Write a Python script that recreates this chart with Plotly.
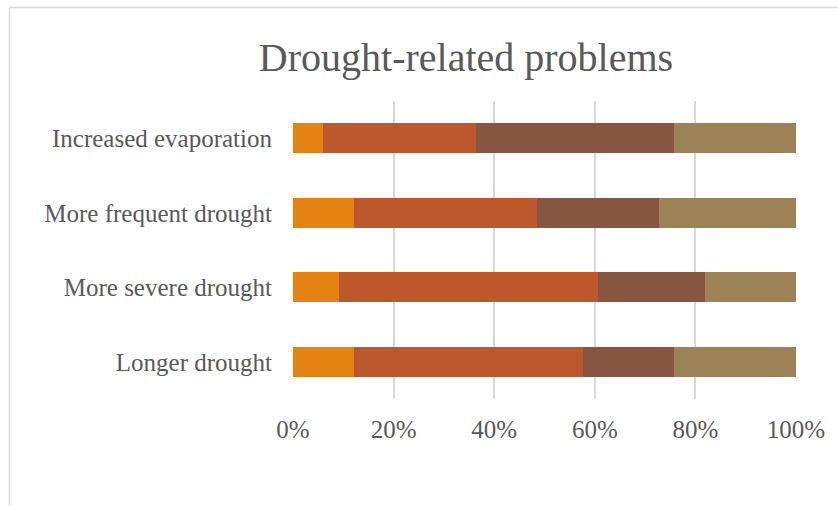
import plotly.graph_objects as go

# Respondent counts per problem, stacked and normalised to 100%
categories = ["Longer drought", "More severe drought", "More frequent drought", "Increased evaporation"]
level_1 = [4, 3, 4, 2]
level_2 = [15, 17, 12, 10]
level_3 = [6, 7, 8, 13]
level_4 = [8, 6, 9, 8]

series = [
    ("Level 1", level_1, "#E48312"),
    ("Level 2", level_2, "#BD582C"),
    ("Level 3", level_3, "#865640"),
    ("Level 4", level_4, "#9B8357"),
]

W, H = 838, 506
L, R, T, B = 293, 42, 101, 107
PW, PH = W - L - R, H - T - B

fig = go.Figure()
for name, vals, color in series:
    fig.add_trace(go.Bar(
        y=categories, x=vals, name=name, orientation="h",
        marker=dict(color=color, line=dict(width=0)),
        showlegend=False, hoverinfo="x+y+name",
    ))

font_family = "Liberation Serif"
text_color = "#595959"

# outer chart frame (left and top edges)
fx = (9.5 - L) / PW
fy = (H - B - 7.5) / PH
frame = dict(type="line", xref="paper", yref="paper",
             line=dict(color="#D9D9D9", width=1.5))

fig.update_layout(
    width=W, height=H,
    margin=dict(l=L, r=R, t=T, b=B, pad=0),
    barmode="stack", barnorm="percent", bargap=0.6,
    paper_bgcolor="white", plot_bgcolor="white",
    font=dict(family=font_family, color=text_color),
    title=dict(text="Drought-related problems", x=466 / W, xanchor="center",
               xref="container", yref="container", y=1 - 57 / H, yanchor="middle",
               font=dict(size=40, family=font_family, color=text_color)),
    xaxis=dict(range=[0, 100], dtick=20, ticksuffix="%", showgrid=True,
               gridcolor="#D9D9D9", gridwidth=1.5, zeroline=False, showline=False,
               tickfont=dict(size=25, color=text_color), ticks="",
               ticklabelstandoff=13, fixedrange=True),
    yaxis=dict(showgrid=False, zeroline=False, showline=False, ticks="",
               tickfont=dict(size=25, color=text_color), ticklabelstandoff=20,
               fixedrange=True),
    shapes=[
        dict(frame, x0=fx, x1=fx, y0=-1, y1=fy),
        dict(frame, x0=fx, x1=2, y0=fy, y1=fy),
    ],
)

fig.write_html("out.html")
